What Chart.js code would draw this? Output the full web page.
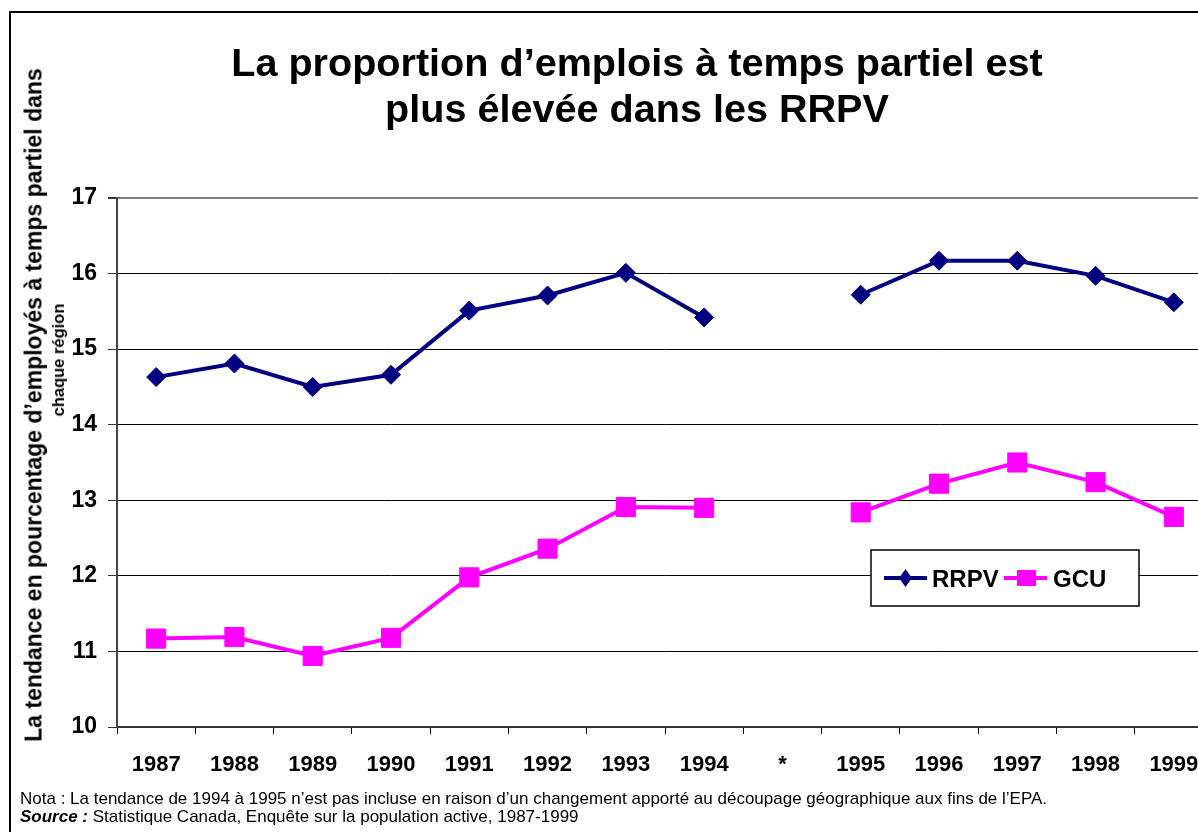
<!DOCTYPE html>
<html>
<head>
<meta charset="utf-8">
<script src="https://cdn.jsdelivr.net/npm/chart.js@4.4.1/dist/chart.umd.min.js"></script>
<style>
  html, body { margin:0; padding:0; width:1198px; height:832px; overflow:hidden; background:#fff; }
  body { position:relative; font-family:"Liberation Sans", Arial, sans-serif; color:#000; }
  #frame { position:absolute; left:9px; top:11px; width:1400px; height:1000px; border-left:2px solid #000; border-top:2px solid #000; }
  #wrap { position:absolute; left:0; top:0; width:1213px; height:832px; }
  .title { position:absolute; left:0; top:39px; width:1274px; text-align:center; font-weight:bold; font-size:39.6px; line-height:46px; white-space:nowrap; }
  .ytitle { position:absolute; transform:translate(-50%,-50%) rotate(-90deg); white-space:nowrap; font-weight:bold; }
  .note { position:absolute; left:20px; font-size:17px; line-height:19px; white-space:nowrap; }
</style>
</head>
<body>
<div id="frame"></div>
<div id="wrap"><canvas id="chart"></canvas></div>
<div class="title">La proportion d’emplois à temps partiel est<br>plus élevée dans les RRPV</div>
<div class="ytitle" style="left:34px; top:405px; font-size:23px; line-height:23px;">La tendance en pourcentage d’employés à temps partiel dans</div>
<div class="ytitle" style="left:58px; top:360px; font-size:16.5px; line-height:16px;">chaque région</div>
<div class="note" style="top:789px;">Nota : La tendance de 1994 à 1995 n’est pas incluse en raison d’un changement apporté au découpage géographique aux fins de l’EPA.</div>
<div class="note" style="top:807px;"><b><i>Source :</i></b> Statistique Canada, Enquête sur la population active, 1987-1999</div>
<script>
const categories = ['1987','1988','1989','1990','1991','1992','1993','1994','*','1995','1996','1997','1998','1999'];
const rrpvValues = [14.63,14.81,14.50,14.66,15.51,15.71,16.01,15.42,null,15.72,16.17,16.17,15.97,15.62];
const gcuValues  = [11.17,11.19,10.94,11.18,11.98,12.36,12.91,12.90,null,12.84,13.22,13.50,13.24,12.78];
const seriesNames = ['RRPV','GCU'];
const yMin = 10, yMax = 17, yStep = 1;

const NAVY = '#000080', MAGENTA = '#FF00FF';
const FONT = '"Liberation Sans", Arial, sans-serif';

const legendBox = {
  id: 'legendBox',
  afterDatasetsDraw(chart) {
    const ctx = chart.ctx;
    ctx.save();
    ctx.fillStyle = '#fff';
    ctx.strokeStyle = '#000';
    ctx.lineWidth = 1.5;
    ctx.fillRect(871, 550, 268, 56);
    ctx.strokeRect(871, 550, 268, 56);
    const cy = 578;
    ctx.strokeStyle = NAVY; ctx.lineWidth = 4;
    ctx.beginPath(); ctx.moveTo(884, cy); ctx.lineTo(927, cy); ctx.stroke();
    ctx.fillStyle = NAVY;
    ctx.beginPath(); ctx.moveTo(905.5, cy - 9); ctx.lineTo(912, cy); ctx.lineTo(905.5, cy + 9); ctx.lineTo(899, cy); ctx.closePath(); ctx.fill();
    ctx.strokeStyle = MAGENTA;
    ctx.beginPath(); ctx.moveTo(1004, cy); ctx.lineTo(1047, cy); ctx.stroke();
    ctx.fillStyle = MAGENTA;
    ctx.fillRect(1017, cy - 8, 19, 16);
    ctx.fillStyle = '#000';
    ctx.font = 'bold 24px ' + FONT;
    ctx.textBaseline = 'alphabetic';
    ctx.textAlign = 'left';
    ctx.fillText(seriesNames[0], 932, 587);
    ctx.fillText(seriesNames[1], 1053, 587);
    ctx.restore();
  }
};

new Chart(document.getElementById('chart'), {
  type: 'line',
  data: {
    labels: categories,
    datasets: [
      { label: seriesNames[0], data: rrpvValues, borderColor: NAVY, backgroundColor: NAVY,
        borderWidth: 4, pointStyle: 'rectRot', pointRadius: 9.5, pointHoverRadius: 9.5, pointBorderWidth: 1,
        pointBorderColor: NAVY, pointBackgroundColor: NAVY, tension: 0, spanGaps: false },
      { label: seriesNames[1], data: gcuValues, borderColor: MAGENTA, backgroundColor: MAGENTA,
        borderWidth: 4, pointStyle: 'rect', pointRadius: 13.5, pointHoverRadius: 13.5, pointBorderWidth: 1,
        pointBorderColor: MAGENTA, pointBackgroundColor: MAGENTA, tension: 0, spanGaps: false }
    ]
  },
  options: {
    responsive: true,
    maintainAspectRatio: false,
    devicePixelRatio: 1,
    animation: false,
    layout: { autoPadding: false, padding: { left: 0, right: 0, top: 198, bottom: 55 } },
    plugins: { legend: { display: false }, title: { display: false }, tooltip: { enabled: false } },
    scales: {
      x: {
        type: 'category',
        offset: true,
        afterFit(scale) { scale.height = 50; scale.paddingRight = 0; scale.paddingLeft = 0; },
        grid: { display: true, drawOnChartArea: false, drawTicks: true, tickLength: 7, tickColor: '#000', tickWidth: 1, offset: true },
        border: { display: true, color: '#333', width: 2 },
        ticks: { color: '#000', font: { family: FONT, size: 22, weight: 'bold' }, padding: 18, maxRotation: 0, autoSkip: false }
      },
      y: {
        min: yMin, max: yMax,
        afterFit(scale) { scale.width = 117; },
        grid: {
          color: (c) => (c.tick && c.tick.value === yMax) ? '#808080' : '#000',
          lineWidth: (c) => (c.tick && c.tick.value === yMax) ? 2 : 1,
          tickLength: 9, tickColor: '#333', drawTicks: true
        },
        border: { display: true, color: '#444', width: 2 },
        ticks: { stepSize: yStep, color: '#000', font: { family: FONT, size: 23, weight: 'bold' }, padding: 11 }
      }
    }
  },
  plugins: [legendBox]
});
</script>
</body>
</html>
